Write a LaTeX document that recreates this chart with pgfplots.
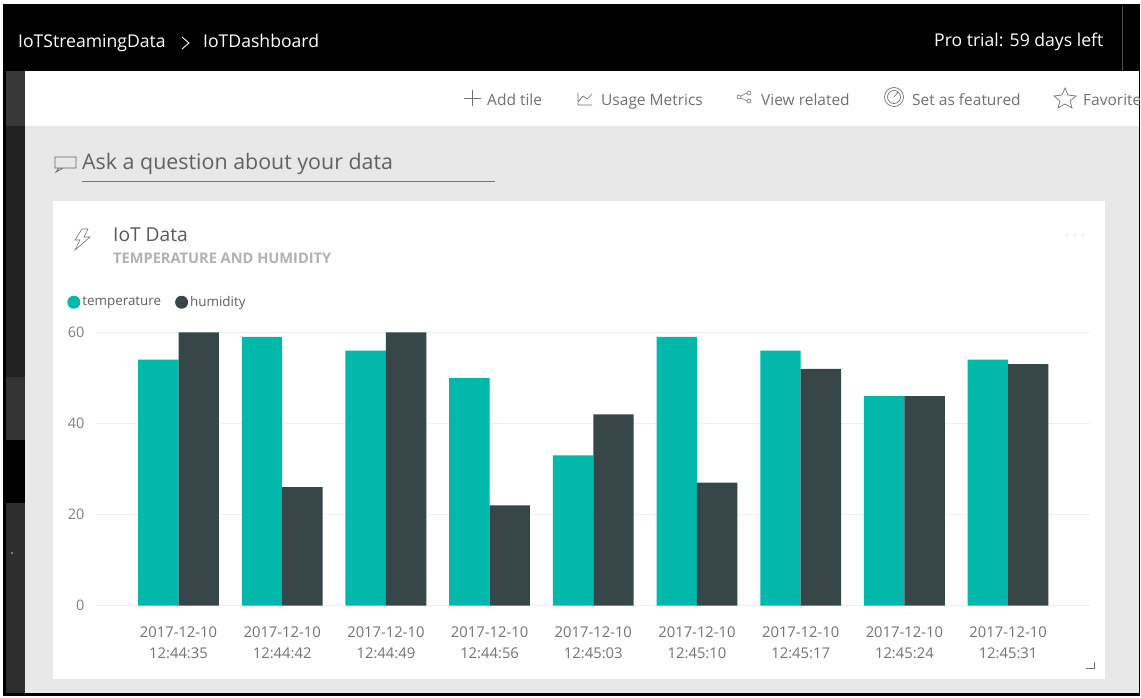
\documentclass[border=0pt]{standalone}
\usepackage{pgfplots}
\pgfplotsset{compat=1.18}
\usepackage{fontspec}
\setmainfont{Open Sans}
\definecolor{teal}{HTML}{01B8AA}
\definecolor{slate}{HTML}{374649}
\definecolor{txt}{HTML}{707070}
\definecolor{panel}{HTML}{E8E8E8}
\definecolor{gridc}{HTML}{F0F0F0}
\newcommand\T[6][]{\node[anchor=base west,inner sep=0pt,text=#2,font=\fontsize{#3}{#3}\selectfont,#1] at (#4,#5) {#6};}
\pgfplotstableread{
i temperature humidity
0 54 60
1 59 26
2 56 60
3 50 22
4 33 42
5 59 27
6 56 52
7 46 46
8 54 53
}\iot
\begin{document}
\begin{tikzpicture}[x=1pt,y=1pt]
\useasboundingbox (0,0) rectangle (1141,697);
\begin{scope}[x=1pt,y=-1pt,shift={(0pt,697pt)}]
\fill[white] (0,0) rectangle (1141,697);
\fill[black] (3,4) rectangle (1140,696);
\fill[white] (25,71) rectangle (1139,126);
\fill[panel] (25,126) rectangle (1139,693);
\fill[white] (53,201) rectangle (1105,679);
% left strip
\fill[black!78] (6,71) rectangle (25,126);
\fill[black!87] (6,126) rectangle (25,377);
\fill[black!80] (6,377) rectangle (25,440);
\fill[black] (6,440) rectangle (25,503);
\fill[black!82] (6,503) rectangle (25,693);
\fill[white!80!black] (12,553) circle (0.9);
\draw[black!70,line width=0.8pt] (1122,6) -- (1122,71);
% header
\T{white}{17.6}{18}{48}{IoTStreamingData}
\draw[white,line width=0.9pt] (182,37) -- (189,43) -- (182,49);
\T{white}{17.6}{203}{48}{IoTDashboard}
\T{white}{17.6}{934}{47}{Pro trial: 59 days left}
% toolbar
\begin{scope}
\clip (25,71) rectangle (1139,126);
\T{txt}{15.5}{487}{106}{Add tile}
\T{txt}{15.5}{601}{106}{Usage Metrics}
\T{txt}{15.5}{761}{106}{View related}
\T{txt}{15.5}{912}{106}{Set as featured}
\T{txt}{15.5}{1083}{106}{Favorites}
\end{scope}
\draw[txt,line width=0.6pt] (464,98) -- (481,98) (472.5,90) -- (472.5,106);
\draw[txt,line width=0.7pt] (578,93) -- (578,105) -- (592,105) (578,102) -- (583,96) -- (587,99) -- (592,94);
\draw[txt,line width=0.6pt] (739,97) circle (2) (749,93) circle (2) (749,101) circle (2) (741,96) -- (747,93) (741,98) -- (747,101);
\draw[txt,line width=0.7pt] (894,97) circle (9.5) (894,97) circle (6.5) (894,97) -- (898,92);
\draw[txt,line width=0.7pt] (1065,88) -- (1068,95) -- (1076,96) -- (1070,101) -- (1072,108) -- (1065,104) -- (1058,108) -- (1060,101) -- (1054,96) -- (1062,95) -- cycle;
% question
\T{black!62}{21.4}{82}{170}{Ask a question about your data}
\draw[black!55,line width=0.7pt] (82,181.6) -- (495,181.6);
\draw[black!60,line width=0.7pt] (55,157) rectangle (76,168) (59,168) -- (56,172) -- (63,168);
% card
\T{black!65}{19.2}{113}{242}{IoT Data}
\T{black!30}{14.6}{113}{264}{\bfseries TEMPERATURE AND HUMIDITY}
\draw[black!55,line width=0.6pt] (82,229) -- (75,240) -- (80,240) -- (75,250) -- (90,237) -- (84,237) -- (88,229) -- cycle;
\foreach \x in {1067,1075,1083} \fill[black!40] (\x,235) circle (0.7);
\draw[black!55,line width=0.9pt] (1094,662) -- (1094,668) -- (1086,668);
\end{scope}
\begin{axis}[
  at={(96pt,91.3pt)},anchor=south west,scale only axis,
  width=994pt,height=273.4pt,
  xmin=-0.7956,xmax=8.79,ymin=0,ymax=60,
  ybar=0pt,bar width=40.4pt,
  axis line style={draw=none},
  clip=false,
  ymajorgrids,grid style={gridc,line width=0.9pt},
  ytick={0,20,40,60},
  xtick={0,...,8},
  xticklabels={{2017-12-10\\12:44:35},{2017-12-10\\12:44:42},{2017-12-10\\12:44:49},{2017-12-10\\12:44:56},{2017-12-10\\12:45:03},{2017-12-10\\12:45:10},{2017-12-10\\12:45:17},{2017-12-10\\12:45:24},{2017-12-10\\12:45:31}},
  major tick length=0pt,
  x tick label style={align=center,text=black!55,font=\fontsize{14.8}{21}\selectfont,yshift=-18pt},
  y tick label style={text=black!50,font=\fontsize{14.5}{14.5}\selectfont,xshift=-8pt},
  /pgf/number format/assume math mode=true,
  legend columns=2,
  legend style={at={(-0.029,1.11)},anchor=west,draw=none,fill=none,inner sep=0pt,
    font=\fontsize{13.4}{14}\selectfont,text=black!62,
    /tikz/every even column/.style={column sep=12pt}},
  legend image code/.code={\fill[#1] (0.1cm,0) circle (6.5pt);},
]
\addplot[fill=teal,draw=none] table[x=i,y=temperature]{\iot};
\addplot[fill=slate,draw=none] table[x=i,y=humidity]{\iot};
\legend{temperature,humidity}
\end{axis}
\end{tikzpicture}
\end{document}
